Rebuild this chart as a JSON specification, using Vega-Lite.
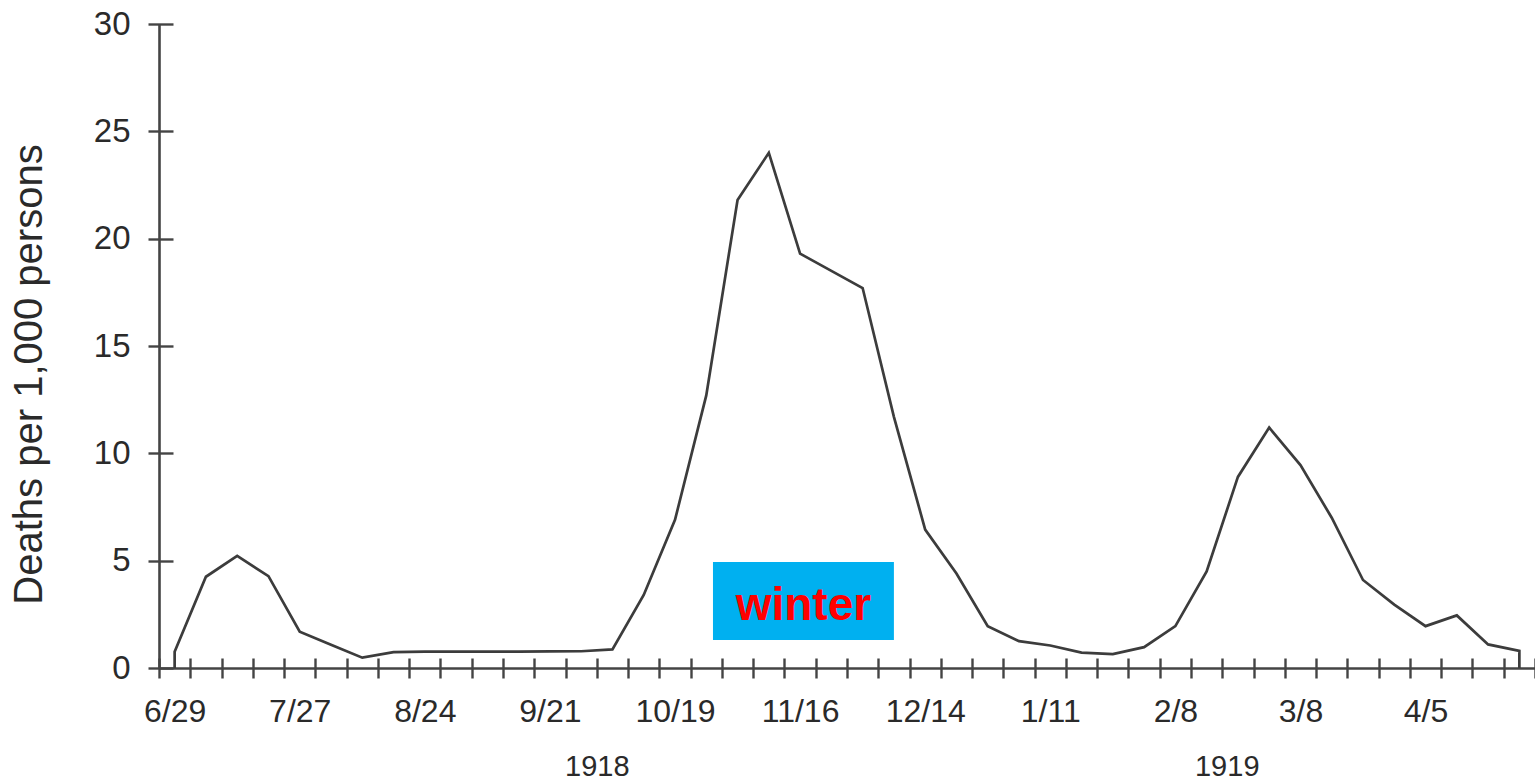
{
  "$schema": "https://vega.github.io/schema/vega-lite/v6.json",
  "autosize": {"type": "none"},
  "padding": {"left": 159, "top": 24, "right": 0, "bottom": 112},
  "width": 1376,
  "height": 644,
  "config": {"view": {"stroke": null}, "font": "Liberation Sans"},
  "datasets": {
    "deaths": [
      {"seq": 0, "week": "1918-06-29", "rate": 0},
      {"seq": 1, "week": "1918-06-29", "rate": 0.76},
      {"seq": 2, "week": "1918-07-06", "rate": 4.25},
      {"seq": 3, "week": "1918-07-13", "rate": 5.22},
      {"seq": 4, "week": "1918-07-20", "rate": 4.28},
      {"seq": 5, "week": "1918-07-27", "rate": 1.69},
      {"seq": 6, "week": "1918-08-03", "rate": 1.08},
      {"seq": 7, "week": "1918-08-10", "rate": 0.48},
      {"seq": 8, "week": "1918-08-17", "rate": 0.74},
      {"seq": 9, "week": "1918-08-24", "rate": 0.76},
      {"seq": 10, "week": "1918-08-31", "rate": 0.76},
      {"seq": 11, "week": "1918-09-07", "rate": 0.76},
      {"seq": 12, "week": "1918-09-14", "rate": 0.76},
      {"seq": 13, "week": "1918-09-21", "rate": 0.77},
      {"seq": 14, "week": "1918-09-28", "rate": 0.78},
      {"seq": 15, "week": "1918-10-05", "rate": 0.87},
      {"seq": 16, "week": "1918-10-12", "rate": 3.4},
      {"seq": 17, "week": "1918-10-19", "rate": 6.9},
      {"seq": 18, "week": "1918-10-26", "rate": 12.7},
      {"seq": 19, "week": "1918-11-02", "rate": 21.8},
      {"seq": 20, "week": "1918-11-09", "rate": 24.0},
      {"seq": 21, "week": "1918-11-16", "rate": 19.3},
      {"seq": 22, "week": "1918-11-23", "rate": 18.5},
      {"seq": 23, "week": "1918-11-30", "rate": 17.7},
      {"seq": 24, "week": "1918-12-07", "rate": 11.7},
      {"seq": 25, "week": "1918-12-14", "rate": 6.45},
      {"seq": 26, "week": "1918-12-21", "rate": 4.4},
      {"seq": 27, "week": "1918-12-28", "rate": 1.95},
      {"seq": 28, "week": "1919-01-04", "rate": 1.25},
      {"seq": 29, "week": "1919-01-11", "rate": 1.05},
      {"seq": 30, "week": "1919-01-18", "rate": 0.72},
      {"seq": 31, "week": "1919-01-25", "rate": 0.65},
      {"seq": 32, "week": "1919-02-01", "rate": 0.97},
      {"seq": 33, "week": "1919-02-08", "rate": 1.95},
      {"seq": 34, "week": "1919-02-15", "rate": 4.5},
      {"seq": 35, "week": "1919-02-22", "rate": 8.9},
      {"seq": 36, "week": "1919-03-01", "rate": 11.2},
      {"seq": 37, "week": "1919-03-08", "rate": 9.45},
      {"seq": 38, "week": "1919-03-15", "rate": 7.0},
      {"seq": 39, "week": "1919-03-22", "rate": 4.1},
      {"seq": 40, "week": "1919-03-29", "rate": 2.95},
      {"seq": 41, "week": "1919-04-05", "rate": 1.95},
      {"seq": 42, "week": "1919-04-12", "rate": 2.45},
      {"seq": 43, "week": "1919-04-19", "rate": 1.1},
      {"seq": 44, "week": "1919-04-26", "rate": 0.8},
      {"seq": 45, "week": "1919-04-26", "rate": 0}
    ],
    "season": [
      {"start": "1918-10-27T12:00:00Z", "end": "1918-12-07T00:00:00Z", "mid": "1918-11-16T18:00:00Z", "top": 4.94, "bottom": 1.3, "center": 2.9, "label": "winter"}
    ]
  },
  "resolve": {"axis": {"x": "independent", "y": "independent"}},
  "layer": [
    {
      "data": {"name": "deaths"},
      "mark": {"type": "line", "color": "#3c3c3c", "strokeWidth": 2.7},
      "encoding": {
        "x": {
          "field": "week", "type": "temporal",
          "scale": {"type": "utc", "nice": false, "domain": [{"year": 1918, "month": 6, "date": 25, "hours": 12, "utc": true}, {"year": 1919, "month": 4, "date": 29, "hours": 12, "utc": true}]},
          "axis": {
            "orient": "bottom", "offset": -10, "domain": false, "labels": false, "grid": false,
            "ticks": true, "tickSize": 20, "tickWidth": 2.4, "tickColor": "#444", "title": null,
            "values": [
              {"year": 1918, "month": 6, "date": 25, "hours": 12, "utc": true},
              {"year": 1918, "month": 7, "date": 2, "hours": 12, "utc": true},
              {"year": 1918, "month": 7, "date": 9, "hours": 12, "utc": true},
              {"year": 1918, "month": 7, "date": 16, "hours": 12, "utc": true},
              {"year": 1918, "month": 7, "date": 23, "hours": 12, "utc": true},
              {"year": 1918, "month": 7, "date": 30, "hours": 12, "utc": true},
              {"year": 1918, "month": 8, "date": 6, "hours": 12, "utc": true},
              {"year": 1918, "month": 8, "date": 13, "hours": 12, "utc": true},
              {"year": 1918, "month": 8, "date": 20, "hours": 12, "utc": true},
              {"year": 1918, "month": 8, "date": 27, "hours": 12, "utc": true},
              {"year": 1918, "month": 9, "date": 3, "hours": 12, "utc": true},
              {"year": 1918, "month": 9, "date": 10, "hours": 12, "utc": true},
              {"year": 1918, "month": 9, "date": 17, "hours": 12, "utc": true},
              {"year": 1918, "month": 9, "date": 24, "hours": 12, "utc": true},
              {"year": 1918, "month": 10, "date": 1, "hours": 12, "utc": true},
              {"year": 1918, "month": 10, "date": 8, "hours": 12, "utc": true},
              {"year": 1918, "month": 10, "date": 15, "hours": 12, "utc": true},
              {"year": 1918, "month": 10, "date": 22, "hours": 12, "utc": true},
              {"year": 1918, "month": 10, "date": 29, "hours": 12, "utc": true},
              {"year": 1918, "month": 11, "date": 5, "hours": 12, "utc": true},
              {"year": 1918, "month": 11, "date": 12, "hours": 12, "utc": true},
              {"year": 1918, "month": 11, "date": 19, "hours": 12, "utc": true},
              {"year": 1918, "month": 11, "date": 26, "hours": 12, "utc": true},
              {"year": 1918, "month": 12, "date": 3, "hours": 12, "utc": true},
              {"year": 1918, "month": 12, "date": 10, "hours": 12, "utc": true},
              {"year": 1918, "month": 12, "date": 17, "hours": 12, "utc": true},
              {"year": 1918, "month": 12, "date": 24, "hours": 12, "utc": true},
              {"year": 1918, "month": 12, "date": 31, "hours": 12, "utc": true},
              {"year": 1919, "month": 1, "date": 7, "hours": 12, "utc": true},
              {"year": 1919, "month": 1, "date": 14, "hours": 12, "utc": true},
              {"year": 1919, "month": 1, "date": 21, "hours": 12, "utc": true},
              {"year": 1919, "month": 1, "date": 28, "hours": 12, "utc": true},
              {"year": 1919, "month": 2, "date": 4, "hours": 12, "utc": true},
              {"year": 1919, "month": 2, "date": 11, "hours": 12, "utc": true},
              {"year": 1919, "month": 2, "date": 18, "hours": 12, "utc": true},
              {"year": 1919, "month": 2, "date": 25, "hours": 12, "utc": true},
              {"year": 1919, "month": 3, "date": 4, "hours": 12, "utc": true},
              {"year": 1919, "month": 3, "date": 11, "hours": 12, "utc": true},
              {"year": 1919, "month": 3, "date": 18, "hours": 12, "utc": true},
              {"year": 1919, "month": 3, "date": 25, "hours": 12, "utc": true},
              {"year": 1919, "month": 4, "date": 1, "hours": 12, "utc": true},
              {"year": 1919, "month": 4, "date": 8, "hours": 12, "utc": true},
              {"year": 1919, "month": 4, "date": 15, "hours": 12, "utc": true},
              {"year": 1919, "month": 4, "date": 22, "hours": 12, "utc": true},
              {"year": 1919, "month": 4, "date": 29, "hours": 12, "utc": true}
            ]
          }
        },
        "y": {
          "field": "rate", "type": "quantitative",
          "scale": {"domain": [0, 30], "nice": false},
          "axis": {
            "orient": "left", "offset": -14, "domain": false, "labels": false, "grid": false,
            "ticks": true, "tickSize": 25, "tickWidth": 2.4, "tickColor": "#444", "title": null,
            "values": [0, 5, 10, 15, 20, 25, 30]
          }
        },
        "order": {"field": "seq", "type": "quantitative"}
      }
    },
    {
      "data": {"name": "season"},
      "mark": {"type": "rect", "color": "#00b0f0"},
      "encoding": {
        "x": {
          "field": "start", "type": "temporal",
          "scale": {"type": "utc", "nice": false, "domain": [{"year": 1918, "month": 6, "date": 25, "hours": 12, "utc": true}, {"year": 1919, "month": 4, "date": 29, "hours": 12, "utc": true}]},
          "axis": {
            "orient": "bottom", "domain": true, "domainColor": "#444", "domainWidth": 2.6,
            "ticks": false, "tickSize": 0, "grid": false, "title": null,
            "labelPadding": 28, "labelFontSize": 32, "labelColor": "#2a2a2a", "labelFont": "Liberation Sans",
            "labelExpr": "utcFormat(datum.value, '%-m/%-d')",
            "labelOverlap": false, "labelFlush": false,
            "values": [
              {"year": 1918, "month": 6, "date": 29, "utc": true},
              {"year": 1918, "month": 7, "date": 27, "utc": true},
              {"year": 1918, "month": 8, "date": 24, "utc": true},
              {"year": 1918, "month": 9, "date": 21, "utc": true},
              {"year": 1918, "month": 10, "date": 19, "utc": true},
              {"year": 1918, "month": 11, "date": 16, "utc": true},
              {"year": 1918, "month": 12, "date": 14, "utc": true},
              {"year": 1919, "month": 1, "date": 11, "utc": true},
              {"year": 1919, "month": 2, "date": 8, "utc": true},
              {"year": 1919, "month": 3, "date": 8, "utc": true},
              {"year": 1919, "month": 4, "date": 5, "utc": true}
            ]
          }
        },
        "x2": {"field": "end"},
        "y": {
          "field": "top", "type": "quantitative",
          "scale": {"domain": [0, 30], "nice": false},
          "axis": {
            "orient": "left", "domain": true, "domainColor": "#444", "domainWidth": 2.6,
            "ticks": false, "tickSize": 0, "grid": false,
            "labelPadding": 29, "labelFontSize": 33, "labelColor": "#2a2a2a", "labelFont": "Liberation Sans",
            "values": [0, 5, 10, 15, 20, 25, 30],
            "title": "Deaths per 1,000 persons",
            "titleFont": "Liberation Sans", "titleFontSize": 40, "titleFontWeight": "normal", "titleColor": "#2a2a2a",
            "titleAngle": -90, "titleBaseline": "alphabetic", "titleAlign": "center",
            "titleX": -118, "titleY": 350
          }
        },
        "y2": {"field": "bottom"}
      }
    },
    {
      "data": {"name": "season"},
      "mark": {"type": "text", "color": "#ff0000", "font": "Liberation Sans", "fontSize": 46, "fontWeight": "bold", "baseline": "middle", "align": "center"},
      "encoding": {
        "x": {
          "field": "mid", "type": "temporal",
          "scale": {"type": "utc", "nice": false, "domain": [{"year": 1918, "month": 6, "date": 25, "hours": 12, "utc": true}, {"year": 1919, "month": 4, "date": 29, "hours": 12, "utc": true}]},
          "axis": {
            "orient": "bottom", "domain": false, "ticks": false, "tickSize": 0, "grid": false, "title": null,
            "labelPadding": 84, "labelFontSize": 29, "labelColor": "#2a2a2a", "labelFont": "Liberation Sans",
            "labelExpr": "utcFormat(datum.value, '%Y')",
            "labelOverlap": false, "labelFlush": false,
            "values": [
              {"year": 1918, "month": 10, "date": 1, "hours": 12, "utc": true},
              {"year": 1919, "month": 2, "date": 19, "hours": 12, "utc": true}
            ]
          }
        },
        "y": {"field": "center", "type": "quantitative", "scale": {"domain": [0, 30], "nice": false}, "axis": null},
        "text": {"field": "label"}
      }
    }
  ]
}
